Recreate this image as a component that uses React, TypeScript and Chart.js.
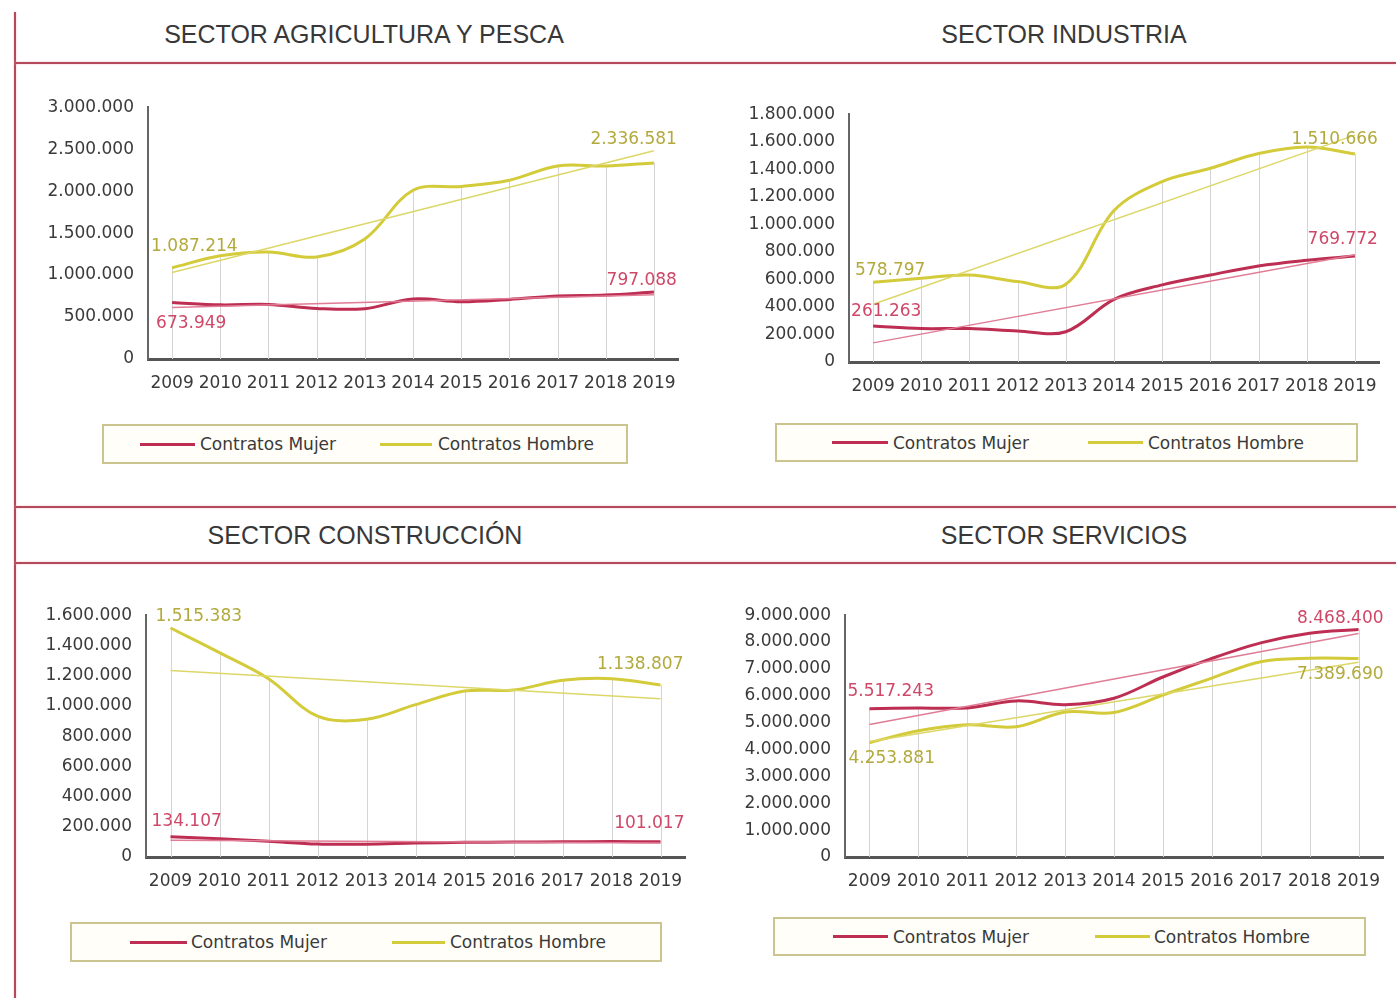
import React, { useEffect, useRef } from 'react';
import { Chart, registerables } from 'chart.js';

Chart.register(...registerables);

// ---------- DATA ----------
const years = ['2009', '2010', '2011', '2012', '2013', '2014', '2015', '2016', '2017', '2018', '2019'];

const agriMujer = [673949, 645000, 650000, 603000, 600000, 715000, 683000, 710000, 750000, 762000, 797088];
const agriHombre = [1087214, 1230000, 1275000, 1215000, 1430000, 2010000, 2055000, 2130000, 2300000, 2300000, 2336581];
const agriTrendMujer = [615000, null, null, null, null, null, null, null, null, null, 766000];
const agriTrendHombre = [1030000, null, null, null, null, null, null, null, null, null, 2480000];

const indMujer = [261263, 243000, 243000, 226000, 220000, 455000, 560000, 632000, 698000, 739000, 769772];
const indHombre = [578797, 608000, 632000, 584000, 565000, 1100000, 1311000, 1407000, 1514000, 1562000, 1510666];
const indTrendMujer = [139000, null, null, null, null, null, null, null, null, null, 779000];
const indTrendHombre = [420000, null, null, null, null, null, null, null, null, null, 1648000];

const consMujer = [134107, 120000, 104000, 86000, 85000, 92000, 97000, 99000, 101000, 102000, 101017];
const consHombre = [1515383, 1352000, 1180000, 932000, 911000, 1008000, 1098000, 1105000, 1169000, 1180000, 1138807];
const consTrendMujer = [111000, null, null, null, null, null, null, null, null, null, 92000];
const consTrendHombre = [1234000, null, null, null, null, null, null, null, null, null, 1047000];

const servMujer = [5517243, 5548000, 5550000, 5810000, 5670000, 5910000, 6700000, 7390000, 7970000, 8330000, 8468400];
const servHombre = [4253881, 4700000, 4920000, 4850000, 5400000, 5380000, 6030000, 6660000, 7270000, 7400000, 7389690];
const servTrendMujer = [4930000, null, null, null, null, null, null, null, null, null, 8320000];
const servTrendHombre = [4300000, null, null, null, null, null, null, null, null, null, 7250000];

const titles = ['SECTOR AGRICULTURA Y PESCA', 'SECTOR INDUSTRIA', 'SECTOR CONSTRUCCIÓN', 'SECTOR SERVICIOS'];
const legendLabels = ['Contratos Mujer', 'Contratos Hombre'];

// ---------- STYLE ----------
const C_MUJER = '#bd2e52';
const C_HOMBRE = '#d3cb3a';
const C_TREND_M = '#e07c95';
const C_TREND_H = '#dcd768';
const C_LBL_M = '#cf4868';
const C_LBL_H = '#b2aa3c';
const C_TEXT = '#3a3a3a';
const C_RED = '#b34a5c';
const FONT = "'DejaVu Sans', 'Liberation Sans', sans-serif";
const TITLE_FONT = "'Liberation Sans', Arial, sans-serif";

const fmt = (v: number) => Math.round(v).toString().replace(/\B(?=(\d{3})+(?!\d))/g, '.');

type LabelSpec = { s: 'm' | 'h'; idx: number; dx: number; dy: number; align: CanvasTextAlign };

type Cfg = {
  L: number; R: number; T: number; B: number;
  max: number; step: number;
  mujer: number[]; hombre: number[];
  trendM: (number | null)[]; trendH: (number | null)[];
  labels: LabelSpec[];
};

const YW = 130, PAD_T = 20, PAD_R = 13, PAD_B = 2, XH = 45;

function SectorChart({ cfg }: { cfg: Cfg }) {
  const ref = useRef<HTMLCanvasElement>(null);
  const left = cfg.L - YW;
  const top = cfg.T - PAD_T;
  const width = cfg.R + PAD_R - left;
  const height = cfg.B + XH + PAD_B - top;

  useEffect(() => {
    const dropLines = {
      id: 'dropLines',
      beforeDatasetsDraw(chart: any) {
        const { ctx, chartArea } = chart;
        const xs = chart.scales.x, ys = chart.scales.y;
        ctx.save();
        ctx.strokeStyle = '#d4d4d4';
        ctx.lineWidth = 1;
        for (let i = 0; i < years.length; i++) {
          const m = Math.max(cfg.mujer[i], cfg.hombre[i]);
          const x = Math.round(xs.getPixelForValue(i)) + 0.5;
          ctx.beginPath();
          ctx.moveTo(x, ys.getPixelForValue(m));
          ctx.lineTo(x, chartArea.bottom);
          ctx.stroke();
        }
        ctx.restore();
      },
    };
    const endLabels = {
      id: 'endLabels',
      afterDatasetsDraw(chart: any) {
        const { ctx } = chart;
        const xs = chart.scales.x, ys = chart.scales.y;
        ctx.save();
        ctx.font = `17px ${FONT}`;
        ctx.textBaseline = 'middle';
        for (const l of cfg.labels) {
          const arr = l.s === 'm' ? cfg.mujer : cfg.hombre;
          const v = arr[l.idx];
          const px = xs.getPixelForValue(l.idx);
          const py = ys.getPixelForValue(v);
          ctx.fillStyle = l.s === 'm' ? C_LBL_M : C_LBL_H;
          ctx.textAlign = l.align;
          ctx.fillText(fmt(v), px + l.dx, py + l.dy);
        }
        ctx.restore();
      },
    };

    const chart = new Chart(ref.current as HTMLCanvasElement, {
      type: 'line',
      data: {
        labels: years,
        datasets: [
          { data: cfg.trendH, borderColor: C_TREND_H, borderWidth: 1.5, pointRadius: 0, spanGaps: true, tension: 0 },
          { data: cfg.trendM, borderColor: C_TREND_M, borderWidth: 1.5, pointRadius: 0, spanGaps: true, tension: 0 },
          { data: cfg.hombre, borderColor: C_HOMBRE, borderWidth: 3, pointRadius: 0, tension: 0.35 },
          { data: cfg.mujer, borderColor: C_MUJER, borderWidth: 3, pointRadius: 0, tension: 0.35 },
        ],
      },
      options: {
        animation: false,
        responsive: false,
        maintainAspectRatio: false,
        devicePixelRatio: 1,
        layout: { padding: { left: 0, top: PAD_T, right: PAD_R, bottom: PAD_B } },
        plugins: { legend: { display: false }, tooltip: { enabled: false } },
        scales: {
          x: {
            offset: true,
            grid: { display: false, drawTicks: false },
            border: { display: true, color: '#555555', width: 3 },
            ticks: { color: C_TEXT, font: { family: FONT, size: 17 }, padding: 14, maxRotation: 0, autoSkip: false },
            afterFit: (s: any) => { s.height = XH; },
          },
          y: {
            min: 0,
            max: cfg.max,
            grid: { display: false, drawTicks: false },
            border: { display: true, color: '#666666', width: 2 },
            ticks: {
              stepSize: cfg.step,
              color: C_TEXT,
              font: { family: FONT, size: 17 },
              padding: 14,
              callback: (v: any) => fmt(Number(v)),
            },
            afterFit: (s: any) => { s.width = YW; },
          },
        },
      },
      plugins: [dropLines, endLabels],
    } as any);
    return () => chart.destroy();
  }, []);

  return (
    <canvas
      ref={ref}
      width={width}
      height={height}
      style={{ position: 'absolute', left, top, width, height }}
    />
  );
}

type LegendCfg = { x: number; y: number; w: number; h: number; ms: [number, number]; mt: number; hs: [number, number]; ht: number };

function Legend({ c }: { c: LegendCfg }) {
  const cy = c.h / 2 - 2;
  const txt = (x: number, s: string) => (
    <div style={{ position: 'absolute', left: x - c.x - 2, top: cy - 12, height: 24, lineHeight: '24px', fontFamily: FONT, fontSize: 17, color: C_TEXT, whiteSpace: 'nowrap' }}>{s}</div>
  );
  const sw = (r: [number, number], col: string) => (
    <div style={{ position: 'absolute', left: r[0] - c.x - 2, width: r[1] - r[0], top: cy - 1.5, height: 3, background: col }} />
  );
  return (
    <div style={{ position: 'absolute', left: c.x, top: c.y, width: c.w, height: c.h, boxSizing: 'border-box', border: '2px solid #cbc48e', background: '#fffef9' }}>
      {sw(c.ms, C_MUJER)}
      {txt(c.mt, legendLabels[0])}
      {sw(c.hs, C_HOMBRE)}
      {txt(c.ht, legendLabels[1])}
    </div>
  );
}

function Title({ text, cx, cy }: { text: string; cx: number; cy: number }) {
  return (
    <div style={{ position: 'absolute', left: cx - 350, width: 700, top: cy - 15, height: 30, lineHeight: '30px', textAlign: 'center', fontFamily: TITLE_FONT, fontSize: 25, color: '#383838', whiteSpace: 'nowrap' }}>{text}</div>
  );
}

const cfgs: Cfg[] = [
  {
    L: 148, R: 678, T: 103, B: 359, max: 3000000, step: 500000,
    mujer: agriMujer, hombre: agriHombre, trendM: agriTrendMujer, trendH: agriTrendHombre,
    labels: [
      { s: 'h', idx: 0, dx: -21, dy: -21, align: 'left' },
      { s: 'm', idx: 0, dx: -16, dy: 21, align: 'left' },
      { s: 'h', idx: 10, dx: 23, dy: -23, align: 'right' },
      { s: 'm', idx: 10, dx: 23, dy: -12, align: 'right' },
    ],
  },
  {
    L: 849, R: 1379, T: 110, B: 362, max: 1800000, step: 200000,
    mujer: indMujer, hombre: indHombre, trendM: indTrendMujer, trendH: indTrendHombre,
    labels: [
      { s: 'h', idx: 0, dx: -18, dy: -12, align: 'left' },
      { s: 'm', idx: 0, dx: -22, dy: -14, align: 'left' },
      { s: 'h', idx: 10, dx: 23, dy: -14, align: 'right' },
      { s: 'm', idx: 10, dx: 23, dy: -16, align: 'right' },
    ],
  },
  {
    L: 146, R: 685, T: 611, B: 857, max: 1600000, step: 200000,
    mujer: consMujer, hombre: consHombre, trendM: consTrendMujer, trendH: consTrendHombre,
    labels: [
      { s: 'h', idx: 0, dx: -15, dy: -11, align: 'left' },
      { s: 'm', idx: 0, dx: -19, dy: -15, align: 'left' },
      { s: 'h', idx: 10, dx: 23, dy: -20, align: 'right' },
      { s: 'm', idx: 10, dx: 24, dy: -18, align: 'right' },
    ],
  },
  {
    L: 845, R: 1383, T: 611, B: 857, max: 9000000, step: 1000000,
    mujer: servMujer, hombre: servHombre, trendM: servTrendMujer, trendH: servTrendHombre,
    labels: [
      { s: 'm', idx: 0, dx: -22, dy: -17, align: 'left' },
      { s: 'h', idx: 0, dx: -21, dy: 16, align: 'left' },
      { s: 'm', idx: 10, dx: 25, dy: -11, align: 'right' },
      { s: 'h', idx: 10, dx: 25, dy: 16, align: 'right' },
    ],
  },
];

const legends: LegendCfg[] = [
  { x: 102, y: 424, w: 526, h: 40, ms: [140, 195], mt: 200, hs: [380, 432], ht: 438 },
  { x: 775, y: 423, w: 583, h: 39, ms: [832, 888], mt: 893, hs: [1088, 1143], ht: 1148 },
  { x: 70, y: 922, w: 592, h: 40, ms: [130, 187], mt: 191, hs: [392, 445], ht: 450 },
  { x: 773, y: 917, w: 593, h: 39, ms: [833, 888], mt: 893, hs: [1095, 1150], ht: 1154 },
];

const titlePos = [
  { cx: 364, cy: 34 },
  { cx: 1064, cy: 34 },
  { cx: 365, cy: 535 },
  { cx: 1064, cy: 535 },
];

export default function App() {
  const hLine = (y: number) => (
    <div style={{ position: 'absolute', left: 15, width: 1381, top: y - 1, height: 2, background: C_RED, boxShadow: '0 0 2px #f2b5c0' }} />
  );
  return (
    <div style={{ position: 'absolute', left: 0, top: 0, width: 1396, height: 998, overflow: 'hidden', background: '#ffffff' }}>
      <div style={{ position: 'absolute', left: 14, top: 12, width: 2, height: 986, background: C_RED, boxShadow: '0 0 2px #f2b5c0' }} />
      {hLine(63)}
      {hLine(507)}
      {hLine(563)}
      {titles.map((t, i) => <Title key={t} text={t} cx={titlePos[i].cx} cy={titlePos[i].cy} />)}
      {cfgs.map((c, i) => <SectorChart key={i} cfg={c} />)}
      {legends.map((l, i) => <Legend key={i} c={l} />)}
    </div>
  );
}
